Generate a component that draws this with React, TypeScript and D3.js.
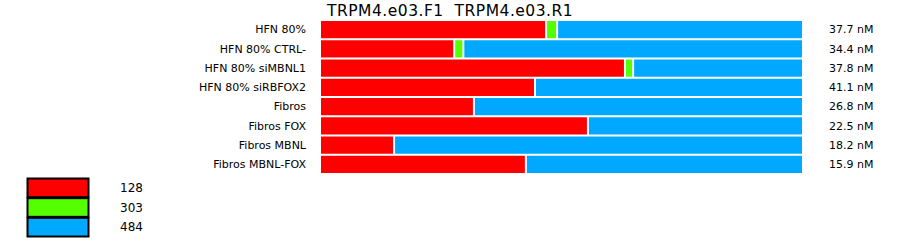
import React from "react";
import * as d3 from "d3";

const categories = [
  "HFN 80%",
  "HFN 80% CTRL-",
  "HFN 80% siMBNL1",
  "HFN 80% siRBFOX2",
  "Fibros",
  "Fibros FOX",
  "Fibros MBNL",
  "Fibros MBNL-FOX",
];
const seriesNames = ["128", "303", "484"];
const red128 = [47.0, 27.9, 63.4, 44.7, 32.0, 55.7, 15.4, 42.8];
const green303 = [2.3, 1.9, 1.7, 0, 0, 0, 0, 0];
const blue484 = [50.7, 70.2, 34.9, 55.3, 68.0, 44.3, 84.6, 57.2];
const concLabels = ["37.7 nM", "34.4 nM", "37.8 nM", "41.1 nM", "26.8 nM", "22.5 nM", "18.2 nM", "15.9 nM"];
const title = "TRPM4.e03.F1  TRPM4.e03.R1";
const colors = ["#ff0000", "#55ff00", "#00a8ff"];

export default function App() {
  const font = "DejaVu Sans, sans-serif";
  const x = d3.scaleLinear().domain([0, 100]).range([321, 802]);
  const y = d3.scaleBand<string>().domain(categories).range([21, 21 + 19 * categories.length]).paddingInner(2 / 19).paddingOuter(0);
  const rows = categories.map((c, i) => ({ c, vals: [red128[i], green303[i], blue484[i]] }));
  const stack = rows.map((r) =>
    r.vals.reduce<{ s: number; e: number; k: number }[]>((acc, v, k) => {
      const s = acc.length ? acc[acc.length - 1].e : 0;
      acc.push({ s, e: s + v, k });
      return acc;
    }, [])
  );
  const legendY = d3.scaleBand<string>().domain(seriesNames).range([178, 237]);
  return (
    <svg width={900} height={242} style={{ position: "fixed", left: 0, top: 0, background: "#fff" }} fontFamily={font}>
      <text x={327} y={16} fontSize={15.5} letterSpacing={0.5} fill="#000" style={{ whiteSpace: "pre" }}>{title}</text>
      {rows.map((r, i) => {
        const yy = y(r.c)!;
        const h = y.bandwidth();
        const segs = stack[i].filter((s) => s.e - s.s > 0);
        return (
          <g key={r.c}>
            <text x={306} y={yy + h / 2} dy="0.35em" textAnchor="end" fontSize={11}>{r.c}</text>
            {segs.map((s, j) => {
              const last = j === segs.length - 1;
              const x0 = x(s.s);
              const x1 = last ? x(100) : x(s.e) - 2;
              return <rect key={j} x={x0} y={yy} width={Math.max(0, x1 - x0)} height={h} fill={colors[s.k]} />;
            })}
            <text x={829} y={yy + h / 2} dy="0.35em" fontSize={11}>{concLabels[i]}</text>
          </g>
        );
      })}
      {seriesNames.map((n, k) => (
        <g key={n}>
          <rect x={27.5} y={legendY(n)! + 0.5} width={61} height={legendY.bandwidth() - 1} fill={colors[k]} stroke="#000" strokeWidth={2} />
          <text x={120} y={legendY(n)! + legendY.bandwidth() / 2} dy="0.35em" fontSize={12}>{n}</text>
        </g>
      ))}
    </svg>
  );
}
